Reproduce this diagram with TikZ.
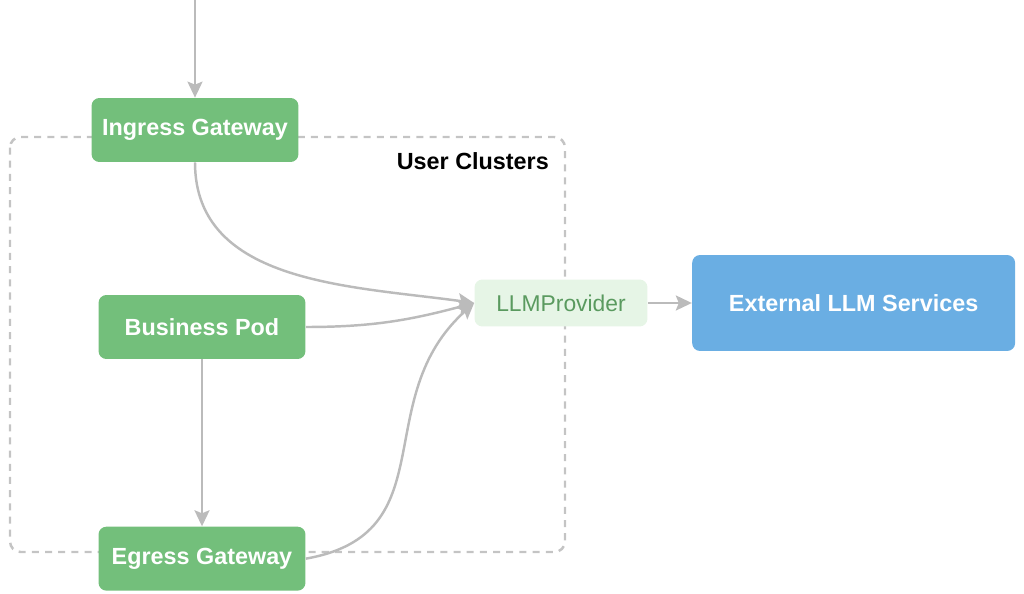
\documentclass[tikz,border=0pt]{standalone}
\usepackage{fontspec}
\setsansfont{Liberation Sans}
\usepackage{xcolor}
\usepackage{tikz}
\usetikzlibrary{arrows.meta,positioning,backgrounds}

\definecolor{gwgreen}{HTML}{73BF7B}
\definecolor{provfill}{HTML}{E6F5E6}
\definecolor{provtext}{HTML}{5A9A5F}
\definecolor{extblue}{HTML}{6AAEE3}
\definecolor{linegray}{HTML}{BBBBBB}
\definecolor{dashgray}{HTML}{C4C4C4}

\begin{document}
\begin{tikzpicture}[
  x=0.02cm, y=-0.02cm,
  box/.style={rounded corners=4.5pt, inner sep=0pt, align=center,
    font=\sffamily\bfseries\fontsize{13.3}{16}\selectfont, text=white},
  gw/.style={box, fill=gwgreen, minimum width=4.14cm,
    minimum height=1.28cm},
  prov/.style={box, fill=provfill, text=provtext,
    font=\sffamily\fontsize{13}{16}\selectfont,
    minimum width=3.46cm, minimum height=0.94cm},
  ext/.style={box, fill=extblue, minimum width=6.46cm,
    minimum height=1.92cm},
  arr/.style={-{Stealth[length=3.2mm,width=3mm,inset=0.6mm]},
    line width=1.4pt, draw=linegray},
  cluster/.style={draw=dashgray, line width=1.4pt,
    dash pattern=on 4pt off 3.5pt, rounded corners=6pt},
  label/.style={font=\sffamily\bfseries\fontsize{13.3}{16}\selectfont},
]

\useasboundingbox (0,0) rectangle (1024,594);

\node[gw] (ingress) at (195,130) {Ingress Gateway};
\node[gw] (pod) at (202,327) {Business Pod};
\node[gw, below=3.34cm of pod] (egress) {Egress Gateway};
\node[prov] (llm) at (561,303) {LLMProvider};
\node[ext, right=0.88cm of llm] (ext) {External LLM Services};

\node[label, anchor=base east] (clname) at (555,170) {User Clusters};

\coordinate (entry) at (195,0);

% cluster frame behind the gateways
\begin{scope}[on background layer]
  \draw[cluster] (10,137) rectangle (565,552);
\end{scope}

\draw[arr] (entry) -- (ingress);
\draw[arr] (pod) -- (egress);
\draw[arr] (ingress.south) to[out=-90, in=172] (llm.west);
\draw[arr] (pod.east) to[out=0, in=195] (llm.west);
\draw[arr] (egress.east) to[out=10, in=222, looseness=1.2] (llm.west);
\draw[arr] (llm) -- (ext);

\end{tikzpicture}
\end{document}
